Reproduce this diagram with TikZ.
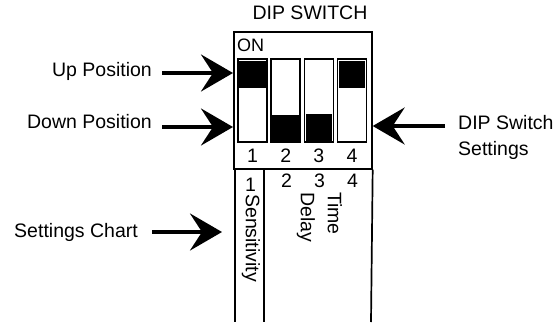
\documentclass[tikz,border=0pt]{standalone}
\usepackage{fontspec}
\setmainfont{Liberation Sans}
\usetikzlibrary{arrows.meta}

\begin{document}
\begin{tikzpicture}[
    x=1pt, y=-1pt,
    every node/.style={font=\fontsize{19.5}{26}\selectfont, inner sep=0pt},
    frame/.style={draw, line width=1.7pt, minimum width=138pt, minimum height=137pt, anchor=north west},
    slot/.style={draw, line width=1.5pt},
    lever/.style={fill=black},
    tbl/.style={line width=1.7pt},
    bigarr/.style={-{Stealth[length=32pt, width=37pt, inset=12pt]}, line width=4pt},
    lbl/.style={anchor=base east},
    rot/.style={rotate=-90, anchor=west, align=left},
]
\useasboundingbox (0,0) rectangle (555,322);

% Switch body
\node[anchor=base] (title) at (310,19) {DIP SWITCH};
\node[frame] (dip) at (233,31) {};
\node[anchor=base west, font=\fontsize{18}{20}\selectfont] (on) at (237,51) {ON};

% Slots, levers and numbers
\foreach \i/\ya/\yb in {1/60.5/88, 2/115/141, 3/114/141, 4/60.5/88} {
  \pgfmathsetmacro{\xl}{238+33.2*(\i-1)}
  \draw[slot] (\xl,59) rectangle ++(29,83);
  \fill[lever] (\xl+1.2,\ya) rectangle (\xl+27.8,\yb);
  \node[anchor=base] (n\i) at (\xl+14.5,162) {\i};
}

% Settings chart below the switch
\draw[tbl] (235,168) -- (235,322);
\draw[tbl] (264,168) -- (264,322);
\draw[tbl] (dip.south east) -- (371,322);
\node[anchor=base] (c1) at (250.5,191) {1};
\node[anchor=base] (c2) at (286.5,187) {2};
\node[anchor=base] (c3) at (319.5,187) {3};
\node[anchor=base] (c4) at (352.5,187) {4};
\node[rot] (sens) at (251,194) {Sensitivity};
\node[rot, font=\fontsize{19.5}{27}\selectfont] (delay) at (319.5,192) {Time\\Delay};

% Labels and arrows
\coordinate (upT) at (162,73);
\node[lbl] (uplbl) at (152,76) {Up Position};
\draw[bigarr] (upT) -- (upT -| dip.west);

\coordinate (downT) at (162,127);
\node[lbl] (downlbl) at (152,128) {Down Position};
\draw[bigarr] (downT) -- (downT -| dip.west);

\coordinate (setT) at (445,126);
\node[anchor=north west, align=left] (setlbl) at (458,115) {DIP Switch\\Settings};
\draw[bigarr] (setT) -- (setT -| dip.east);

\coordinate (chartT) at (152,232);
\coordinate (chartH) at (222,232);
\node[lbl] (chartlbl) at (138,237) {Settings Chart};
\draw[bigarr] (chartT) -- (chartH);

\end{tikzpicture}
\end{document}
